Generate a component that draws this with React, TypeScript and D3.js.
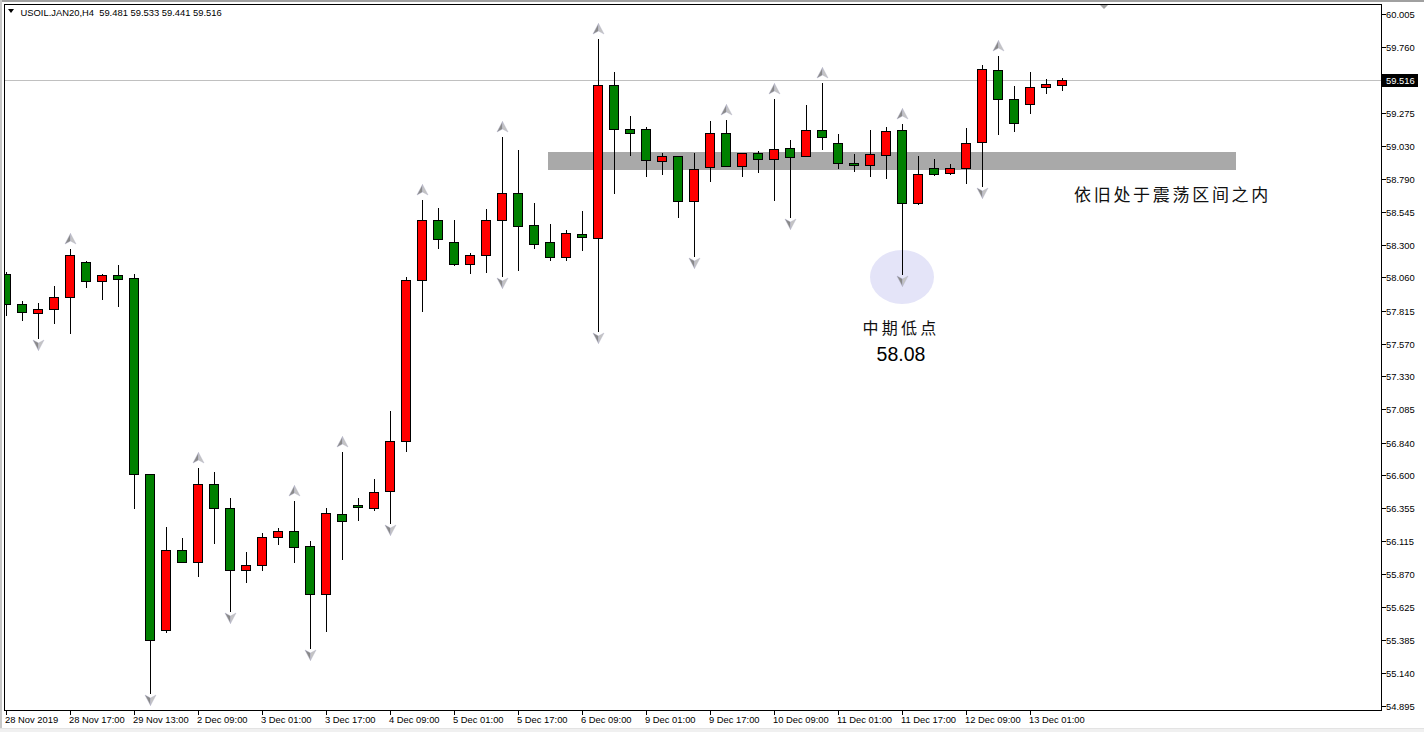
import React from "react";
import * as d3 from "d3";

const W = 1424;
const H = 732;

const headerText = "USOIL.JAN20,H4  59.481 59.533 59.441 59.516";

const opens = [
  58.083, 57.861, 57.795, 57.825, 57.913, 58.172, 58.031, 58.078, 58.053, 56.606,
  55.454, 56.045, 55.961, 56.532, 56.355, 55.897, 55.934, 56.141, 56.185, 56.074,
  55.72, 56.311, 56.377, 56.355, 56.481, 56.85, 58.039, 58.482, 58.319, 58.157,
  58.223, 58.482, 58.681, 58.445, 58.319, 58.209, 58.378, 58.349, 59.479, 59.154,
  59.154, 58.917, 58.954, 58.622, 58.873, 59.124, 58.88, 58.976, 58.932, 59.013,
  58.954, 59.146, 59.05, 58.903, 58.888, 58.962, 59.146, 58.607, 58.866, 58.829,
  58.866, 59.058, 59.589, 59.375, 59.338, 59.464, 59.481,
];
const highs = [
  58.102, 57.886, 57.871, 57.997, 58.27, 58.181, 58.085, 58.152, 58.085, 56.61,
  56.217, 56.136, 56.65, 56.623, 56.431, 56.032, 56.17, 56.21, 56.409, 56.114,
  56.355, 56.771, 56.431, 56.571, 57.074, 58.061, 58.632, 58.57, 58.484, 58.238,
  58.563, 59.095, 58.999, 58.609, 58.452, 58.408, 58.548, 59.818, 59.575, 59.25,
  59.168, 58.976, 58.96, 58.976, 59.213, 59.22, 58.976, 58.991, 59.375, 59.072,
  59.331, 59.493, 59.117, 58.969, 59.149, 59.168, 59.191, 58.954, 58.932, 58.895,
  59.161, 59.626, 59.693, 59.471, 59.575, 59.523, 59.533,
];
const lows = [
  57.782, 57.748, 57.615, 57.726, 57.652, 57.991, 57.903, 57.851, 56.36, 54.994,
  55.444, 55.961, 55.857, 56.101, 55.594, 55.813, 55.902, 56.094, 55.961, 55.326,
  55.451, 55.983, 56.266, 56.34, 56.247, 56.78, 57.814, 58.275, 58.149, 58.09,
  58.102, 58.073, 58.117, 58.275, 58.186, 58.186, 58.259, 57.667, 58.681, 58.962,
  58.807, 58.821, 58.504, 58.216, 58.77, 58.88, 58.807, 58.836, 58.629, 58.508,
  58.954, 59.006, 58.866, 58.844, 58.807, 58.792, 58.083, 58.6, 58.814, 58.821,
  58.755, 58.733, 59.117, 59.139, 59.272, 59.419, 59.441,
];
const closes = [
  57.861, 57.802, 57.825, 57.913, 58.226, 58.031, 58.078, 58.046, 56.606, 55.383,
  56.045, 55.961, 56.532, 56.355, 55.897, 55.934, 56.141, 56.185, 56.067, 55.72,
  56.318, 56.259, 56.362, 56.473, 56.85, 58.039, 58.482, 58.341, 58.157, 58.223,
  58.482, 58.681, 58.437, 58.305, 58.209, 58.386, 58.356, 59.479, 59.154, 59.124,
  58.925, 58.954, 58.622, 58.858, 59.124, 58.88, 58.976, 58.932, 59.006, 58.947,
  59.146, 59.095, 58.903, 58.888, 58.969, 59.139, 58.607, 58.821, 58.821, 58.866,
  59.05, 59.597, 59.375, 59.198, 59.464, 59.486, 59.516,
];

const timeLabels = [
  "28 Nov 2019", "28 Nov 17:00", "29 Nov 13:00", "2 Dec 09:00", "3 Dec 01:00",
  "3 Dec 17:00", "4 Dec 09:00", "5 Dec 01:00", "5 Dec 17:00", "6 Dec 09:00",
  "9 Dec 01:00", "9 Dec 17:00", "10 Dec 09:00", "11 Dec 01:00", "11 Dec 17:00",
  "12 Dec 09:00", "13 Dec 01:00",
];
const timeLabelStep = 4;

const priceTicks = [
  60.005, 59.76, 59.275, 59.03, 58.79, 58.545, 58.3, 58.06, 57.815, 57.57, 57.33,
  57.085, 56.84, 56.6, 56.355, 56.115, 55.87, 55.625, 55.385, 55.14, 54.895,
];
const lastPrice = 59.516;

const upFractals = [4, 12, 18, 21, 26, 31, 37, 45, 48, 51, 56, 62];
const downFractals = [2, 9, 14, 19, 24, 31, 37, 43, 49, 56, 61];

const zoneFrom = 33.9;
const zoneTo = 76.9;
const zoneTop = 58.986;
const zoneBottom = 58.853;

const lowIndex = 56;
const lowCirclePrice = 58.063;
const lowLabel = "中期低点";
const lowValue = "58.08";
const zoneNote = "依旧处于震荡区间之内";
const zoneNoteIndex = 66.75;
const zoneNotePrice = 58.676;

const axisFont = "'Liberation Sans', Arial, sans-serif";
const cjkFont = "'Noto Sans CJK SC', 'Noto Sans', sans-serif";

function Arrow({ cx, cy, up }: { cx: number; cy: number; up: boolean }) {
  const s = up ? 1 : -1;
  const left = `M0,${-5.5 * s} L${-5.5},${5 * s} L0,${2 * s} Z`;
  const right = `M0,${-5.5 * s} L5.5,${5 * s} L0,${2 * s} Z`;
  return (
    <g transform={`translate(${cx},${cy})`}>
      <path d={left} fill="#8a8a8a" stroke="#a9a9c4" strokeWidth={0.4} />
      <path d={right} fill="#c4c4c4" stroke="#b0b0c8" strokeWidth={0.4} />
    </g>
  );
}

export default function App() {
  const n = opens.length;
  const x = d3.scaleLinear().domain([0, n - 1]).range([6, 6 + 16 * (n - 1)]);
  const y = d3.scaleLinear().domain([54.895, 60.005]).range([706, 14]);

  const plotLeft = 4;
  const plotRight = 1381;
  const plotTop = 4;
  const plotBottom = 710;

  const candles = d3.range(n).map((i) => ({
    i,
    o: opens[i],
    h: highs[i],
    l: lows[i],
    c: closes[i],
  }));

  const lastY = Math.round(y(lastPrice));

  return (
    <div style={{ position: "fixed", left: 0, top: 0, width: W, height: H, background: "#fff" }}>
      <svg width={W} height={H} viewBox={`0 0 ${W} ${H}`} style={{ display: "block" }}>
        <defs>
          <clipPath id="plotClip">
            <rect x={plotLeft + 1} y={plotTop + 1} width={plotRight - plotLeft - 1} height={plotBottom - plotTop - 1} />
          </clipPath>
        </defs>
        <rect x={0} y={0} width={W} height={H} fill="#ffffff" />
        {/* outer window edges */}
        <rect x={0} y={0} width={W} height={2} fill="#a0a0a0" />
        <rect x={0} y={0} width={2} height={H} fill="#c8c8c8" />
        <rect x={0} y={728} width={W} height={4} fill="#f0f0f0" />
        <line x1={0} x2={W} y1={728.5} y2={728.5} stroke="#e3e3e3" />

        <g clipPath="url(#plotClip)">
          {/* zone rectangle */}
          <rect
            x={Math.round(x(zoneFrom))}
            y={Math.round(y(zoneTop))}
            width={Math.round(x(zoneTo)) - Math.round(x(zoneFrom))}
            height={Math.round(y(zoneBottom)) - Math.round(y(zoneTop))}
            fill="#a9a9a9"
          />
          {/* low highlight ellipse */}
          <ellipse cx={x(lowIndex)} cy={y(lowCirclePrice)} rx={32} ry={27} fill="#e4e4f8" />
          {/* last price line */}
          <line x1={plotLeft} x2={plotRight} y1={lastY + 0.5} y2={lastY + 0.5} stroke="#c0c0c0" />

          {candles.map((d) => {
            const cx = Math.round(x(d.i));
            const yh = Math.round(y(d.h));
            const yl = Math.round(y(d.l));
            const yTop = Math.round(y(Math.max(d.o, d.c)));
            const yBot = Math.round(y(Math.min(d.o, d.c)));
            const bull = d.c >= d.o;
            const bh = Math.max(yBot - yTop, 1);
            return (
              <g key={d.i}>
                <line x1={cx + 0.5} x2={cx + 0.5} y1={yh} y2={yl + 1} stroke="#000" strokeWidth={1} />
                <rect
                  x={cx - 4.5}
                  y={yTop + 0.5}
                  width={9}
                  height={bh}
                  fill={bull ? "#ff0000" : "#008000"}
                  stroke="#000"
                  strokeWidth={1}
                />
              </g>
            );
          })}

          {upFractals.map((i) => (
            <Arrow key={`u${i}`} cx={Math.round(x(i)) + 0.5} cy={Math.round(y(highs[i])) - 10} up={true} />
          ))}
          {downFractals.map((i) => (
            <Arrow key={`d${i}`} cx={Math.round(x(i)) + 0.5} cy={Math.round(y(lows[i])) + 7} up={false} />
          ))}

          {/* annotations */}
          <text
            x={x(lowIndex) - 1}
            y={327}
            textAnchor="middle"
            dominantBaseline="central"
            fontFamily={cjkFont}
            fontSize={16}
            letterSpacing={3.3}
            fill="#111"
          >
            {lowLabel}
          </text>
          <text
            x={x(lowIndex) - 1}
            y={361}
            textAnchor="middle"
            fontFamily={axisFont}
            fontSize={19.5}
            fill="#000"
          >
            {lowValue}
          </text>
          <text
            x={x(zoneNoteIndex)}
            y={y(zoneNotePrice)}
            dominantBaseline="central"
            fontFamily={cjkFont}
            fontSize={17}
            letterSpacing={2.7}
            fill="#111"
          >
            {zoneNote}
          </text>
        </g>

        {/* plot frame */}
        <line x1={plotLeft} x2={plotRight + 1} y1={plotTop + 0.5} y2={plotTop + 0.5} stroke="#000" />
        <line x1={plotLeft + 0.5} x2={plotLeft + 0.5} y1={plotTop} y2={plotBottom + 1} stroke="#000" />
        <line x1={plotLeft} x2={plotRight + 1} y1={plotBottom + 0.5} y2={plotBottom + 0.5} stroke="#000" />
        <line x1={plotRight + 0.5} x2={plotRight + 0.5} y1={plotTop} y2={plotBottom + 1} stroke="#000" />

        {/* chart shift marker */}
        <path d="M1100,5 L1108,5 L1104,9 Z" fill="#a0a0a0" />

        {/* header */}
        <path d="M8,9 L14,9 L11,13 Z" fill="#000" />
        <text x={20.5} y={15.5} fontFamily={axisFont} fontSize={9.4} fill="#000" style={{ whiteSpace: "pre" }}>
          {headerText}
        </text>

        {/* price axis */}
        {priceTicks.map((p) => {
          const py = Math.round(y(p));
          return (
            <g key={p}>
              <line x1={plotRight + 1} x2={plotRight + 5} y1={py + 0.5} y2={py + 0.5} stroke="#000" />
              <text x={1386} y={py + 0.5} dominantBaseline="central" fontFamily={axisFont} fontSize={9.4} fill="#000">
                {p.toFixed(3)}
              </text>
            </g>
          );
        })}
        <rect x={1382} y={lastY - 6} width={36} height={13} fill="#000" />
        <text x={1386} y={lastY + 0.5} dominantBaseline="central" fontFamily={axisFont} fontSize={9.4} fill="#fff">
          {lastPrice.toFixed(3)}
        </text>

        {/* time axis */}
        {timeLabels.map((t, k) => {
          const tx = Math.round(x(k * timeLabelStep));
          return (
            <g key={t}>
              <line x1={tx + 0.5} x2={tx + 0.5} y1={plotBottom + 1} y2={plotBottom + 5} stroke="#000" />
              <text x={tx - 1} y={719} dominantBaseline="central" fontFamily={axisFont} fontSize={9.4} fill="#000">
                {t}
              </text>
            </g>
          );
        })}
      </svg>
    </div>
  );
}
